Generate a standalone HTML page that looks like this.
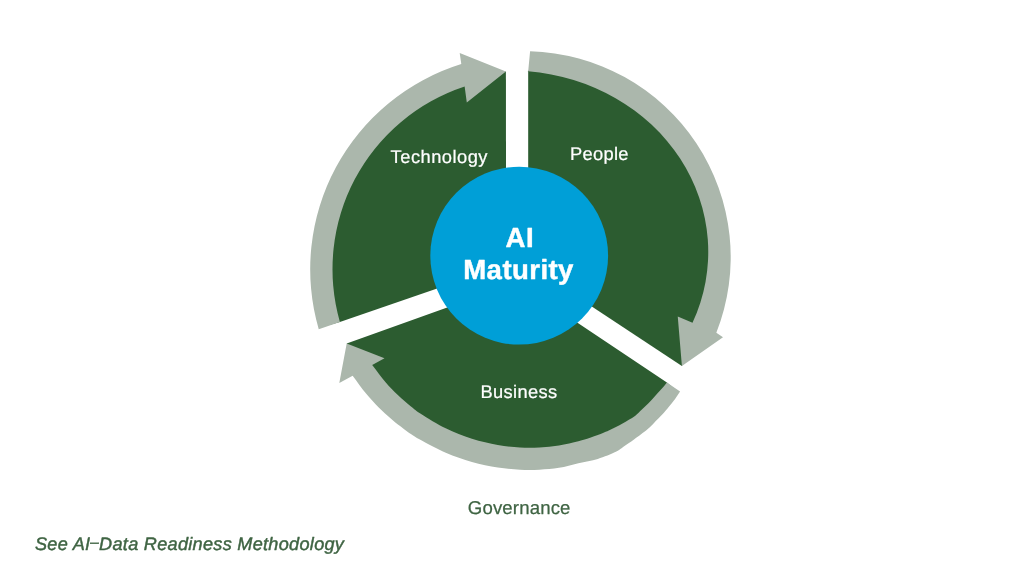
<!DOCTYPE html>
<html lang="en"><head><meta charset="utf-8"><title>AI Maturity</title>
<style>html,body{margin:0;padding:0;background:#fff;}body{width:1024px;height:578px;overflow:hidden;}svg{display:block;}</style>
</head><body>
<svg style="will-change:transform" width="1024" height="578" viewBox="0 0 1024 578">
<path d="M 506.10,264.80 L 505.90,71.50 L 461.14,75.82 A 203.7 203.7 0 0 0 329.16,325.05 L 339.88,321.99 Z" fill="#2c5c30"/>
<path d="M 528.20,264.60 L 528.20,71.29 L 533.93,61.78 A 207.2 191.2 0 0 1 701.70,326.76 L 681.90,365.90 Z" fill="#2c5c30"/>
<path d="M 517.28,282.45 L 346.70,343.50 L 365.61,369.58 C 370.18,375.48 374.83,382.02 379.33,387.28 C 383.83,392.53 388.21,396.92 392.60,401.12 C 396.99,405.32 401.61,409.20 405.67,412.48 C 409.73,415.77 410.89,416.99 416.97,420.83 C 423.06,424.67 433.42,431.25 442.18,435.52 C 450.94,439.79 460.48,443.54 469.52,446.44 C 478.55,449.35 488.07,451.43 496.41,452.93 C 504.76,454.43 512.34,455.04 519.59,455.45 C 526.84,455.87 533.14,455.78 539.91,455.43 C 546.68,455.07 553.44,454.38 560.20,453.32 C 566.96,452.26 575.05,450.38 580.46,449.07 C 585.86,447.75 588.26,446.91 592.62,445.43 C 596.97,443.94 603.10,441.56 606.60,440.16 C 610.11,438.76 611.40,438.08 613.65,437.03 C 615.89,435.99 617.94,434.98 620.07,433.89 C 622.20,432.80 624.28,431.70 626.43,430.50 C 628.58,429.29 630.78,428.02 633.00,426.67 C 635.22,425.31 637.48,424.15 639.75,422.37 C 642.03,420.58 644.39,418.05 646.64,415.94 C 648.89,413.84 650.96,412.00 653.23,409.72 C 655.50,407.44 658.01,404.66 660.25,402.25 C 662.48,399.85 664.53,397.70 666.63,395.29 C 668.72,392.88 670.74,390.30 672.80,387.80 L 666.90,382.40 Z" fill="#2c5c30"/>
<path d="M 318.75,329.20 A 214.8 214.8 0 0 1 461.30,64.06 L 459.70,53.00 L 505.90,71.50 L 466.80,102.50 L 464.64,86.41 A 192.5 192.5 0 0 0 339.88,321.99 Z" fill="#abb7ac"/>
<path d="M 530.10,51.30 A 206.0 206.0 0 0 1 716.33,332.82 L 723.00,337.30 L 681.90,365.90 L 677.75,316.60 L 692.50,322.84 A 197.16 181.25 0 0 0 528.20,71.29 Z" fill="#abb7ac"/>
<path d="M 680.06,391.40 C 677.87,394.63 675.59,398.27 673.50,401.10 C 671.41,403.93 669.71,405.82 667.50,408.40 C 665.29,410.98 662.50,414.18 660.25,416.60 C 658.00,419.02 656.08,420.82 654.00,422.90 C 651.92,424.98 651.08,426.32 647.75,429.10 C 644.42,431.88 637.88,436.78 634.00,439.60 C 630.12,442.42 627.52,443.97 624.50,446.00 C 621.48,448.03 620.35,449.65 615.90,451.80 C 611.45,453.95 604.05,457.00 597.80,458.90 C 591.55,460.80 584.87,461.71 578.40,463.20 C 571.93,464.69 565.49,466.77 559.00,467.85 C 552.52,468.93 546.00,469.36 539.50,469.67 C 533.00,469.97 526.96,470.04 520.00,469.69 C 513.05,469.33 505.80,468.81 497.78,467.53 C 489.76,466.24 480.57,464.43 471.91,461.97 C 463.24,459.52 454.53,456.56 445.78,452.78 C 437.03,448.99 426.35,443.22 419.41,439.28 C 412.47,435.34 408.82,432.52 404.14,429.15 C 399.46,425.78 395.56,422.68 391.33,419.07 C 387.10,415.45 382.96,411.70 378.74,407.46 C 374.53,403.21 370.39,398.86 366.04,393.58 C 361.69,388.30 357.11,381.71 352.65,375.77 L 339.30,382.90 L 346.70,343.50 L 384.50,358.30 L 372.20,365.04 C 376.59,370.70 381.05,376.98 385.37,382.03 C 389.68,387.07 393.89,391.29 398.10,395.32 C 402.31,399.35 406.75,403.07 410.65,406.22 C 414.55,409.37 415.66,410.55 421.50,414.23 C 427.34,417.92 437.29,424.23 445.69,428.33 C 454.09,432.43 463.25,436.03 471.93,438.82 C 480.60,441.60 489.73,443.60 497.74,445.04 C 505.75,446.48 513.03,447.06 519.99,447.46 C 526.95,447.86 533.00,447.78 539.49,447.44 C 545.99,447.10 552.48,446.43 558.96,445.41 C 565.45,444.40 573.22,442.59 578.41,441.33 C 583.59,440.07 585.90,439.26 590.08,437.84 C 594.26,436.41 600.14,434.12 603.50,432.78 C 606.87,431.44 608.11,430.79 610.27,429.78 C 612.42,428.78 614.39,427.81 616.43,426.77 C 618.48,425.72 620.47,424.67 622.53,423.51 C 624.60,422.36 626.71,421.14 628.84,419.83 C 630.97,418.53 633.14,417.43 635.32,415.71 C 637.50,413.98 639.75,411.53 641.90,409.50 C 644.05,407.47 646.03,405.70 648.20,403.50 C 650.37,401.30 652.77,398.62 654.90,396.30 C 657.03,393.98 659.00,391.92 661.00,389.60 C 663.00,387.28 664.93,384.80 666.90,382.40 Z" fill="#abb7ac"/>
<circle cx="519.2" cy="255.7" r="88.9" fill="#009fd7"/>
<g font-family="'Liberation Sans', Arial, sans-serif" text-rendering="geometricPrecision">
<text id="t1" x="390.61" y="163.0" font-size="18.3" font-weight="400" font-style="normal" fill="#ffffff" stroke="#ffffff" stroke-width="0.22" stroke-linejoin="round" style="letter-spacing:0.490px">Technology</text>
<text id="t2" x="570.10" y="160.4" font-size="18.3" font-weight="400" font-style="normal" fill="#ffffff" stroke="#ffffff" stroke-width="0.22" stroke-linejoin="round" style="letter-spacing:0.302px">People</text>
<text id="t3" x="480.56" y="397.5" font-size="18.3" font-weight="400" font-style="normal" fill="#ffffff" stroke="#ffffff" stroke-width="0.22" stroke-linejoin="round" style="letter-spacing:0.337px">Business</text>
<text id="t4" x="505.39" y="247.2" font-size="27.6" font-weight="700" font-style="normal" fill="#ffffff" stroke="#ffffff" stroke-width="0.45" stroke-linejoin="round" style="letter-spacing:0.598px">AI</text>
<text id="t5" x="463.22" y="279.1" font-size="27.6" font-weight="700" font-style="normal" fill="#ffffff" stroke="#ffffff" stroke-width="0.45" stroke-linejoin="round" style="letter-spacing:0.419px">Maturity</text>
<text id="t6" x="467.80" y="513.7" font-size="18.6" font-weight="400" font-style="normal" fill="#3f6443" stroke="#3f6443" stroke-width="0.25" stroke-linejoin="round" style="letter-spacing:0.149px">Governance</text>
<text id="t7" x="34.92" y="549.7" font-size="18.1" font-weight="400" font-style="italic" fill="#3f6443" stroke="#3f6443" stroke-width="0.45" stroke-linejoin="round" style="letter-spacing:0.297px">See AI<tspan dy="-3" font-size="15.2">–</tspan><tspan dy="3">Data Readiness Methodology</tspan></text>
</g>
</svg>
</body></html>
